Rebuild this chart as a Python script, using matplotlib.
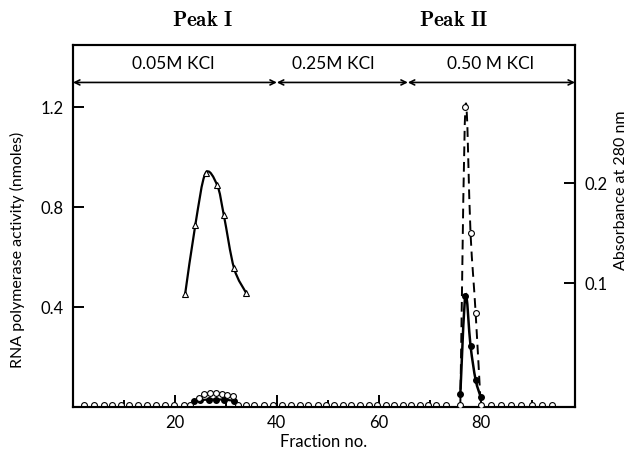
import numpy as np
import matplotlib.pyplot as plt
from matplotlib.path import Path
from matplotlib.patches import PathPatch

plt.rcParams['font.family'] = ['Lato', 'DejaVu Sans']
plt.rcParams['mathtext.fontset'] = 'cm'

# --- data ---
# RNA polymerase activity, peak I (open triangles, left axis)
tri_x = [22, 24, 26, 28.3, 29.6, 31.6, 34]
tri_y = [0.452, 0.729, 0.936, 0.888, 0.768, 0.556, 0.456]

# filled circles (left axis)
dot1_x = [23.7, 25, 26.7, 28, 29.6, 31.6]
dot1_y = [0.025, 0.028, 0.030, 0.030, 0.030, 0.025]
dot2_x = [76, 77, 78, 79, 80]
dot2_y = [0.052, 0.445, 0.245, 0.109, 0.040]

# absorbance at 280 nm (open circles, right axis)
base_x = [2.2, 4.1, 6.0, 7.7, 9.4, 11.0, 12.7, 14.5, 16.2, 18.0, 19.8, 21.8, 23.0,
          32.3, 33.9, 35.6, 37.5, 39.3, 41.0, 42.8, 44.5, 46.2, 48.0, 49.7, 51.3,
          53.0, 54.6, 56.3, 58.0, 59.7, 61.4, 63.0, 64.7, 66.3, 68.0, 69.7, 71.3,
          73.1, 82, 84, 86, 88, 90, 92, 94]
base_y = [-0.022] * len(base_x)
bump_x = [24.7, 25.7, 26.9, 28.0, 29.2, 30.3, 31.3]
bump_y = [-0.015, -0.011, -0.010, -0.010, -0.011, -0.012, -0.013]
abs_x = [76, 77, 78, 79, 80]
abs_y = [-0.022, 0.2757, 0.150, 0.0703, -0.022]

salt_bounds = [0, 40, 65.7, 98.5]
salt_labels = ['0.05M KCl', '0.25M KCl', '0.50 M KCl']
salt_text_x = [19.7, 51, 82]
peak_labels = [r'$\mathbf{Peak\ I}$', r'$\mathbf{Peak\ II}$']
peak_x = [25.4, 74.6]


def smooth_path(x, y):
    # Catmull-Rom through the points, drawn as cubic Bezier segments
    pts = np.column_stack([x, y]).astype(float)
    verts = [pts[0]]
    codes = [Path.MOVETO]
    n = len(pts)
    for i in range(n - 1):
        p0 = pts[max(i - 1, 0)]
        p1 = pts[i]
        p2 = pts[i + 1]
        p3 = pts[min(i + 2, n - 1)]
        verts += [p1 + (p2 - p0) / 6, p2 - (p3 - p1) / 6, p2]
        codes += [Path.CURVE4] * 3
    return Path(verts, codes)


fig = plt.figure(figsize=(6.31, 4.53), dpi=100)
ax = fig.add_axes([73 / 631, 1 - 407 / 453, 502 / 631, 362 / 453])
ax2 = ax.twinx()

ax.set_xlim(0, 98.5)
ax.set_ylim(0, 1.45)
ax2.set_ylim(-0.024, 0.338)

# curves
ax.add_patch(PathPatch(smooth_path(tri_x, tri_y), fill=False, lw=1.6, color='black'))
ax.add_patch(PathPatch(smooth_path(dot2_x, dot2_y), fill=False, lw=1.8, color='black'))
ax.plot(dot1_x, dot1_y, '-', color='black', lw=1.6)
ax2.add_patch(PathPatch(smooth_path(abs_x, abs_y), fill=False, lw=1.4, color='black',
                        linestyle=(0, (5, 3))))

# markers
ax2.plot(base_x, base_y, 'o', ms=4.2, mfc='white', mec='black', mew=0.8, ls='none')
ax2.plot(bump_x, bump_y, 'o', ms=4.2, mfc='white', mec='black', mew=0.8, ls='none')
ax2.plot(abs_x, abs_y, 'o', ms=4.2, mfc='white', mec='black', mew=0.8, ls='none', zorder=5)
ax.plot(tri_x, tri_y, '^', ms=4.5, mfc='white', mec='black', mew=0.8, ls='none', zorder=5)
ax.plot(dot1_x, dot1_y, 'o', ms=4, color='black', ls='none', zorder=5)
ax.plot(dot2_x, dot2_y, 'o', ms=4, color='black', ls='none', zorder=5)

# salt step arrows
for i in range(3):
    ax.annotate('', xy=(salt_bounds[i], 1.30), xytext=(salt_bounds[i + 1], 1.30),
                arrowprops=dict(arrowstyle='<->', lw=1.2, color='black',
                                shrinkA=0, shrinkB=0, mutation_scale=9))
    ax.text(salt_text_x[i], 1.375, salt_labels[i], ha='center', va='center', fontsize=12.5)

for lab, px in zip(peak_labels, peak_x):
    ax.text(px, 1.552, lab, ha='center', va='center', fontsize=15, clip_on=False)

# axes styling
for a in (ax, ax2):
    for s in a.spines.values():
        s.set_linewidth(1.5)

ax.set_xticks([20, 40, 60, 80])
ax.set_xticks([10, 30, 50, 70, 90], minor=True)
ax.set_yticks([0.4, 0.8, 1.2])
ax.set_yticklabels(['0.4', '0.8', '1.2'])
ax.tick_params(axis='x', which='major', direction='in', length=9, width=1.4, pad=6, labelsize=12)
ax.tick_params(axis='x', which='minor', direction='in', length=5, width=1.4)
ax.tick_params(axis='y', direction='in', length=8, width=1.4, pad=7, labelsize=12)
ax2.set_yticks([0.1, 0.2])
ax2.set_yticklabels(['0.1', '0.2'])
ax2.tick_params(axis='y', direction='in', length=8, width=1.4, pad=7, labelsize=12)

ax.set_xlabel('Fraction no.', fontsize=12, labelpad=2)
ax.set_ylabel('RNA polymerase activity (nmoles)', fontsize=11.5)
ax.yaxis.set_label_coords(-0.096, 0.435)
ax2.set_ylabel('Absorbance at 280 nm', fontsize=11.5)
ax2.yaxis.set_label_coords(1.078, 0.6)

fig.savefig('out.png', dpi=100)
